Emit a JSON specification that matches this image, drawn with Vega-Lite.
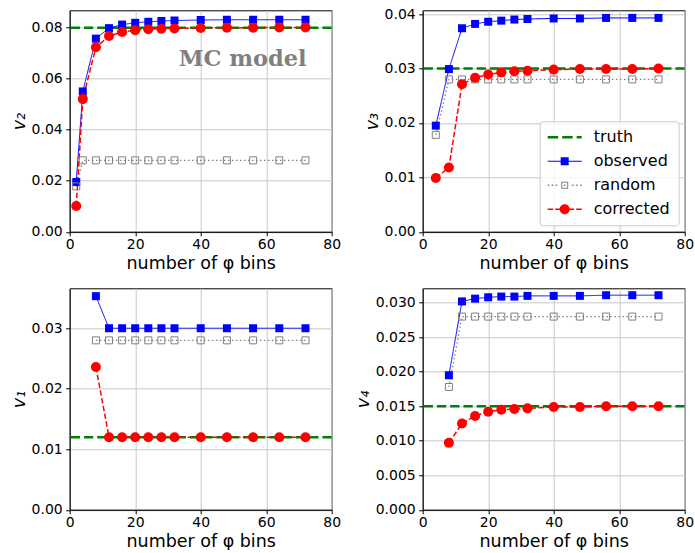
{
  "$schema": "https://vega.github.io/schema/vega-lite/v6.json",
  "background": "white",
  "padding": {"left": 8.7, "top": 6.3, "right": 0, "bottom": 0},
  "config": {
    "view": {"stroke": "#000", "strokeWidth": 1},
    "axis": {"labelFont": "DejaVu Sans", "labelFontSize": 14, "labelColor": "#000", "titleFont": "DejaVu Sans", "titleFontSize": 17.5, "titleFontWeight": "normal", "titleColor": "#000", "domainColor": "#000", "domainWidth": 1, "tickColor": "#000", "tickSize": 4, "tickWidth": 1, "gridColor": "#c8c8c8", "gridWidth": 1, "labelFlush": false, "labelOverlap": false},
    "axisX": {"titlePadding": 3, "labelPadding": 1.5},
    "axisY": {"titlePadding": 3, "labelPadding": 3.5, "titleFontStyle": "italic"}
  },
  "datasets": {
    "d": [
      {"p": "v2", "s": "truth", "x": 0, "v": 0.08},
      {"p": "v2", "s": "observed", "x": 2, "v": 0.0195}, {"p": "v2", "s": "observed", "x": 4, "v": 0.055}, {"p": "v2", "s": "observed", "x": 8, "v": 0.0757}, {"p": "v2", "s": "observed", "x": 12, "v": 0.0798}, {"p": "v2", "s": "observed", "x": 16, "v": 0.0812}, {"p": "v2", "s": "observed", "x": 20, "v": 0.0819}, {"p": "v2", "s": "observed", "x": 24, "v": 0.0823}, {"p": "v2", "s": "observed", "x": 28, "v": 0.0826}, {"p": "v2", "s": "observed", "x": 32, "v": 0.0828}, {"p": "v2", "s": "observed", "x": 40, "v": 0.083}, {"p": "v2", "s": "observed", "x": 48, "v": 0.0831}, {"p": "v2", "s": "observed", "x": 56, "v": 0.0831}, {"p": "v2", "s": "observed", "x": 64, "v": 0.0831}, {"p": "v2", "s": "observed", "x": 72, "v": 0.0831},
      {"p": "v2", "s": "random", "x": 2, "v": 0.0178}, {"p": "v2", "s": "random", "x": 4, "v": 0.028}, {"p": "v2", "s": "random", "x": 8, "v": 0.028}, {"p": "v2", "s": "random", "x": 12, "v": 0.028}, {"p": "v2", "s": "random", "x": 16, "v": 0.028}, {"p": "v2", "s": "random", "x": 20, "v": 0.028}, {"p": "v2", "s": "random", "x": 24, "v": 0.028}, {"p": "v2", "s": "random", "x": 28, "v": 0.028}, {"p": "v2", "s": "random", "x": 32, "v": 0.028}, {"p": "v2", "s": "random", "x": 40, "v": 0.028}, {"p": "v2", "s": "random", "x": 48, "v": 0.028}, {"p": "v2", "s": "random", "x": 56, "v": 0.028}, {"p": "v2", "s": "random", "x": 64, "v": 0.028}, {"p": "v2", "s": "random", "x": 72, "v": 0.028},
      {"p": "v2", "s": "corrected", "x": 2, "v": 0.0101}, {"p": "v2", "s": "corrected", "x": 4, "v": 0.052}, {"p": "v2", "s": "corrected", "x": 8, "v": 0.0723}, {"p": "v2", "s": "corrected", "x": 12, "v": 0.0767}, {"p": "v2", "s": "corrected", "x": 16, "v": 0.0783}, {"p": "v2", "s": "corrected", "x": 20, "v": 0.079}, {"p": "v2", "s": "corrected", "x": 24, "v": 0.0794}, {"p": "v2", "s": "corrected", "x": 28, "v": 0.0796}, {"p": "v2", "s": "corrected", "x": 32, "v": 0.0797}, {"p": "v2", "s": "corrected", "x": 40, "v": 0.0799}, {"p": "v2", "s": "corrected", "x": 48, "v": 0.08}, {"p": "v2", "s": "corrected", "x": 56, "v": 0.08}, {"p": "v2", "s": "corrected", "x": 64, "v": 0.0801}, {"p": "v2", "s": "corrected", "x": 72, "v": 0.0801},

      {"p": "v3", "s": "truth", "x": 0, "v": 0.03},
      {"p": "v3", "s": "observed", "x": 4, "v": 0.0195}, {"p": "v3", "s": "observed", "x": 8, "v": 0.0299}, {"p": "v3", "s": "observed", "x": 12, "v": 0.0374}, {"p": "v3", "s": "observed", "x": 16, "v": 0.0382}, {"p": "v3", "s": "observed", "x": 20, "v": 0.0386}, {"p": "v3", "s": "observed", "x": 24, "v": 0.0388}, {"p": "v3", "s": "observed", "x": 28, "v": 0.039}, {"p": "v3", "s": "observed", "x": 32, "v": 0.0391}, {"p": "v3", "s": "observed", "x": 40, "v": 0.0392}, {"p": "v3", "s": "observed", "x": 48, "v": 0.0392}, {"p": "v3", "s": "observed", "x": 56, "v": 0.0393}, {"p": "v3", "s": "observed", "x": 64, "v": 0.0393}, {"p": "v3", "s": "observed", "x": 72, "v": 0.0393},
      {"p": "v3", "s": "random", "x": 4, "v": 0.0178}, {"p": "v3", "s": "random", "x": 8, "v": 0.028}, {"p": "v3", "s": "random", "x": 12, "v": 0.028}, {"p": "v3", "s": "random", "x": 16, "v": 0.028}, {"p": "v3", "s": "random", "x": 20, "v": 0.028}, {"p": "v3", "s": "random", "x": 24, "v": 0.028}, {"p": "v3", "s": "random", "x": 28, "v": 0.028}, {"p": "v3", "s": "random", "x": 32, "v": 0.028}, {"p": "v3", "s": "random", "x": 40, "v": 0.028}, {"p": "v3", "s": "random", "x": 48, "v": 0.028}, {"p": "v3", "s": "random", "x": 56, "v": 0.028}, {"p": "v3", "s": "random", "x": 64, "v": 0.028}, {"p": "v3", "s": "random", "x": 72, "v": 0.028},
      {"p": "v3", "s": "corrected", "x": 4, "v": 0.0099}, {"p": "v3", "s": "corrected", "x": 8, "v": 0.0118}, {"p": "v3", "s": "corrected", "x": 12, "v": 0.0271}, {"p": "v3", "s": "corrected", "x": 16, "v": 0.0283}, {"p": "v3", "s": "corrected", "x": 20, "v": 0.0289}, {"p": "v3", "s": "corrected", "x": 24, "v": 0.0293}, {"p": "v3", "s": "corrected", "x": 28, "v": 0.0295}, {"p": "v3", "s": "corrected", "x": 32, "v": 0.0296}, {"p": "v3", "s": "corrected", "x": 40, "v": 0.0298}, {"p": "v3", "s": "corrected", "x": 48, "v": 0.0299}, {"p": "v3", "s": "corrected", "x": 56, "v": 0.0299}, {"p": "v3", "s": "corrected", "x": 64, "v": 0.0299}, {"p": "v3", "s": "corrected", "x": 72, "v": 0.03},

      {"p": "v1", "s": "truth", "x": 0, "v": 0.012},
      {"p": "v1", "s": "observed", "x": 8, "v": 0.0353}, {"p": "v1", "s": "observed", "x": 12, "v": 0.03}, {"p": "v1", "s": "observed", "x": 16, "v": 0.03}, {"p": "v1", "s": "observed", "x": 20, "v": 0.03}, {"p": "v1", "s": "observed", "x": 24, "v": 0.03}, {"p": "v1", "s": "observed", "x": 28, "v": 0.03}, {"p": "v1", "s": "observed", "x": 32, "v": 0.03}, {"p": "v1", "s": "observed", "x": 40, "v": 0.03}, {"p": "v1", "s": "observed", "x": 48, "v": 0.03}, {"p": "v1", "s": "observed", "x": 56, "v": 0.03}, {"p": "v1", "s": "observed", "x": 64, "v": 0.03}, {"p": "v1", "s": "observed", "x": 72, "v": 0.03},
      {"p": "v1", "s": "random", "x": 8, "v": 0.028}, {"p": "v1", "s": "random", "x": 12, "v": 0.028}, {"p": "v1", "s": "random", "x": 16, "v": 0.028}, {"p": "v1", "s": "random", "x": 20, "v": 0.028}, {"p": "v1", "s": "random", "x": 24, "v": 0.028}, {"p": "v1", "s": "random", "x": 28, "v": 0.028}, {"p": "v1", "s": "random", "x": 32, "v": 0.028}, {"p": "v1", "s": "random", "x": 40, "v": 0.028}, {"p": "v1", "s": "random", "x": 48, "v": 0.028}, {"p": "v1", "s": "random", "x": 56, "v": 0.028}, {"p": "v1", "s": "random", "x": 64, "v": 0.028}, {"p": "v1", "s": "random", "x": 72, "v": 0.028},
      {"p": "v1", "s": "corrected", "x": 8, "v": 0.0236}, {"p": "v1", "s": "corrected", "x": 12, "v": 0.012}, {"p": "v1", "s": "corrected", "x": 16, "v": 0.012}, {"p": "v1", "s": "corrected", "x": 20, "v": 0.012}, {"p": "v1", "s": "corrected", "x": 24, "v": 0.012}, {"p": "v1", "s": "corrected", "x": 28, "v": 0.012}, {"p": "v1", "s": "corrected", "x": 32, "v": 0.012}, {"p": "v1", "s": "corrected", "x": 40, "v": 0.012}, {"p": "v1", "s": "corrected", "x": 48, "v": 0.012}, {"p": "v1", "s": "corrected", "x": 56, "v": 0.012}, {"p": "v1", "s": "corrected", "x": 64, "v": 0.012}, {"p": "v1", "s": "corrected", "x": 72, "v": 0.012},

      {"p": "v4", "s": "truth", "x": 0, "v": 0.015},
      {"p": "v4", "s": "observed", "x": 8, "v": 0.0195}, {"p": "v4", "s": "observed", "x": 12, "v": 0.0302}, {"p": "v4", "s": "observed", "x": 16, "v": 0.0306}, {"p": "v4", "s": "observed", "x": 20, "v": 0.0308}, {"p": "v4", "s": "observed", "x": 24, "v": 0.0309}, {"p": "v4", "s": "observed", "x": 28, "v": 0.0309}, {"p": "v4", "s": "observed", "x": 32, "v": 0.031}, {"p": "v4", "s": "observed", "x": 40, "v": 0.031}, {"p": "v4", "s": "observed", "x": 48, "v": 0.031}, {"p": "v4", "s": "observed", "x": 56, "v": 0.0311}, {"p": "v4", "s": "observed", "x": 64, "v": 0.0311}, {"p": "v4", "s": "observed", "x": 72, "v": 0.0311},
      {"p": "v4", "s": "random", "x": 8, "v": 0.0178}, {"p": "v4", "s": "random", "x": 12, "v": 0.028}, {"p": "v4", "s": "random", "x": 16, "v": 0.028}, {"p": "v4", "s": "random", "x": 20, "v": 0.028}, {"p": "v4", "s": "random", "x": 24, "v": 0.028}, {"p": "v4", "s": "random", "x": 28, "v": 0.028}, {"p": "v4", "s": "random", "x": 32, "v": 0.028}, {"p": "v4", "s": "random", "x": 40, "v": 0.028}, {"p": "v4", "s": "random", "x": 48, "v": 0.028}, {"p": "v4", "s": "random", "x": 56, "v": 0.028}, {"p": "v4", "s": "random", "x": 64, "v": 0.028}, {"p": "v4", "s": "random", "x": 72, "v": 0.028},
      {"p": "v4", "s": "corrected", "x": 8, "v": 0.0097}, {"p": "v4", "s": "corrected", "x": 12, "v": 0.0125}, {"p": "v4", "s": "corrected", "x": 16, "v": 0.0136}, {"p": "v4", "s": "corrected", "x": 20, "v": 0.0142}, {"p": "v4", "s": "corrected", "x": 24, "v": 0.0145}, {"p": "v4", "s": "corrected", "x": 28, "v": 0.0146}, {"p": "v4", "s": "corrected", "x": 32, "v": 0.0147}, {"p": "v4", "s": "corrected", "x": 40, "v": 0.0149}, {"p": "v4", "s": "corrected", "x": 48, "v": 0.0149}, {"p": "v4", "s": "corrected", "x": 56, "v": 0.015}, {"p": "v4", "s": "corrected", "x": 64, "v": 0.015}, {"p": "v4", "s": "corrected", "x": 72, "v": 0.015}
    ]
  },
  "columns": 2,
  "spacing": {"row": 56, "column": 91},
  "bounds": "flush",
  "resolve": {"scale": {"color": "independent"}, "legend": {"color": "independent"}},
  "concat": [
    {
      "width": 262, "height": 221.5,
      "data": {"name": "d"},
      "encoding": {"y": {"field": "v", "type": "quantitative", "title": "v₂", "scale": {"domain": [0, 0.0868], "nice": false, "zero": false}, "axis": {"values": [0, 0.02, 0.04, 0.06, 0.08], "format": ".2f"}}},
      "layer": [
        {"transform": [{"filter": "datum.p === 'v2' && datum.s === 'truth'"}], "mark": {"type": "rule", "color": "#008000", "strokeWidth": 2.5, "strokeDash": [9.25, 4]}},
        {"transform": [{"filter": "datum.p === 'v2' && datum.s !== 'truth'"}], "mark": {"type": "line"},
         "encoding": {
           "x": {"field": "x", "type": "quantitative", "title": "number of φ bins", "scale": {"domain": [0, 80], "nice": false, "zero": false}, "axis": {"values": [0, 20, 40, 60, 80]}},
           "color": {"field": "s", "type": "nominal", "scale": {"domain": ["truth", "observed", "random", "corrected"], "range": ["#008000", "#0000ff", "#808080", "#ff0000"]}, "legend": null},
           "strokeDash": {"field": "s", "type": "nominal", "scale": {"domain": ["observed", "random", "corrected"], "range": [[1, 0], [1.5, 2.5], [5.5, 2.4]]}, "legend": null},
           "strokeWidth": {"field": "s", "type": "nominal", "scale": {"domain": ["observed", "random", "corrected"], "range": [1, 1.5, 1.5]}, "legend": null}
         }},
        {"transform": [{"filter": "datum.p === 'v2' && datum.s === 'observed'"}], "mark": {"type": "point", "shape": "square", "filled": true, "color": "#0000ff", "size": 64, "opacity": 1},
         "encoding": {"x": {"field": "x", "type": "quantitative"}}},
        {"transform": [{"filter": "datum.p === 'v2' && datum.s === 'random'"}], "mark": {"type": "point", "shape": "square", "filled": false, "color": "#808080", "strokeWidth": 1, "size": 49, "opacity": 1},
         "encoding": {"x": {"field": "x", "type": "quantitative"}}},
        {"transform": [{"filter": "datum.p === 'v2' && datum.s === 'corrected'"}], "mark": {"type": "point", "shape": "circle", "filled": true, "color": "#ff0000", "size": 100, "opacity": 1},
         "encoding": {"x": {"field": "x", "type": "quantitative"}}},
        {"transform": [{"filter": "datum.p === 'v2' && datum.s === 'truth'"}], "mark": {"type": "text", "text": "MC model", "font": "DejaVu Serif", "fontWeight": "bold", "fontSize": 22.5, "fill": "#808080", "align": "center", "baseline": "alphabetic"},
         "encoding": {"x": {"datum": 52.8}, "y": {"datum": 0.0648}}}
      ]
    },
    {
      "width": 262, "height": 221.5,
      "data": {"name": "d"},
      "encoding": {"y": {"field": "v", "type": "quantitative", "title": "v₃", "scale": {"domain": [0, 0.0407], "nice": false, "zero": false}, "axis": {"values": [0, 0.01, 0.02, 0.03, 0.04], "format": ".2f"}}},
      "layer": [
        {"transform": [{"filter": "datum.p === 'v3' && datum.s === 'truth'"}], "mark": {"type": "rule", "color": "#008000", "strokeWidth": 2.5, "strokeDash": [9.25, 4]}},
        {"transform": [{"filter": "datum.p === 'v3' && datum.s !== 'truth'"}], "mark": {"type": "line"},
         "encoding": {
           "x": {"field": "x", "type": "quantitative", "title": "number of φ bins", "scale": {"domain": [0, 80], "nice": false, "zero": false}, "axis": {"values": [0, 20, 40, 60, 80]}},
           "color": {"field": "s", "type": "nominal", "scale": {"domain": ["truth", "observed", "random", "corrected"], "range": ["#008000", "#0000ff", "#808080", "#ff0000"]},
             "legend": {
               "orient": "bottom-right", "offset": 6.5, "title": null, "padding": 8,
               "fillColor": "rgba(255,255,255,0.8)", "strokeColor": "#cccccc", "cornerRadius": 3,
               "labelFont": "DejaVu Sans", "labelFontSize": 16, "labelColor": "#000",
               "symbolSize": 4, "symbolStrokeWidth": 0, "symbolOffset": 9, "labelOffset": 21, "rowPadding": 8,
               "encode": {"symbols": {"update": {
                 "shape": {"signal": "datum.value === 'truth' ? 'M-17,-1.25H-6.5V1.25H-17Z M-2.5,-1.25H8V1.25H-2.5Z M12,-1.25H17V1.25H12Z' : datum.value === 'observed' ? 'M-17,-0.5H17V0.5H-17Z M-4,-4H4V4H-4Z' : datum.value === 'random' ? 'M-17,-0.75H-15.5V0.75H-17Z M-13,-0.75H-11.5V0.75H-13Z M-9,-0.75H-7.5V0.75H-9Z M7.5,-0.75H9V0.75H7.5Z M11.5,-0.75H13V0.75H11.5Z M15.5,-0.75H17V0.75H15.5Z M-3.5,-3.5H3.5V3.5H-3.5Z M-2.5,-2.5V2.5H2.5V-2.5Z M-0.75,-0.75H0.75V0.75H-0.75Z' : 'M-17,-0.75H-11.5V0.75H-17Z M-9.5,-0.75H-4.5V0.75H-9.5Z M4.5,-0.75H9.5V0.75H4.5Z M11.5,-0.75H17V0.75H11.5Z M5,0A5,5 0 1,1 -5,0A5,5 0 1,1 5,0Z'"},
                 "fill": {"signal": "datum.value === 'truth' ? '#008000' : datum.value === 'observed' ? '#0000ff' : datum.value === 'random' ? '#808080' : '#ff0000'"},
                 "stroke": {"value": "transparent"},
                 "strokeWidth": {"value": 0},
                 "opacity": {"value": 1}
               }}}
             }},
           "strokeDash": {"field": "s", "type": "nominal", "scale": {"domain": ["observed", "random", "corrected"], "range": [[1, 0], [1.5, 2.5], [5.5, 2.4]]}, "legend": null},
           "strokeWidth": {"field": "s", "type": "nominal", "scale": {"domain": ["observed", "random", "corrected"], "range": [1, 1.5, 1.5]}, "legend": null}
         }},
        {"transform": [{"filter": "datum.p === 'v3' && datum.s === 'observed'"}], "mark": {"type": "point", "shape": "square", "filled": true, "color": "#0000ff", "size": 64, "opacity": 1},
         "encoding": {"x": {"field": "x", "type": "quantitative"}}},
        {"transform": [{"filter": "datum.p === 'v3' && datum.s === 'random'"}], "mark": {"type": "point", "shape": "square", "filled": false, "color": "#808080", "strokeWidth": 1, "size": 49, "opacity": 1},
         "encoding": {"x": {"field": "x", "type": "quantitative"}}},
        {"transform": [{"filter": "datum.p === 'v3' && datum.s === 'corrected'"}], "mark": {"type": "point", "shape": "circle", "filled": true, "color": "#ff0000", "size": 100, "opacity": 1},
         "encoding": {"x": {"field": "x", "type": "quantitative"}}}
      ]
    },
    {
      "width": 262, "height": 221.5,
      "data": {"name": "d"},
      "encoding": {"y": {"field": "v", "type": "quantitative", "title": "v₁", "scale": {"domain": [0, 0.0366], "nice": false, "zero": false}, "axis": {"values": [0, 0.01, 0.02, 0.03], "format": ".2f"}}},
      "layer": [
        {"transform": [{"filter": "datum.p === 'v1' && datum.s === 'truth'"}], "mark": {"type": "rule", "color": "#008000", "strokeWidth": 2.5, "strokeDash": [9.25, 4]}},
        {"transform": [{"filter": "datum.p === 'v1' && datum.s !== 'truth'"}], "mark": {"type": "line"},
         "encoding": {
           "x": {"field": "x", "type": "quantitative", "title": "number of φ bins", "scale": {"domain": [0, 80], "nice": false, "zero": false}, "axis": {"values": [0, 20, 40, 60, 80]}},
           "color": {"field": "s", "type": "nominal", "scale": {"domain": ["truth", "observed", "random", "corrected"], "range": ["#008000", "#0000ff", "#808080", "#ff0000"]}, "legend": null},
           "strokeDash": {"field": "s", "type": "nominal", "scale": {"domain": ["observed", "random", "corrected"], "range": [[1, 0], [1.5, 2.5], [5.5, 2.4]]}, "legend": null},
           "strokeWidth": {"field": "s", "type": "nominal", "scale": {"domain": ["observed", "random", "corrected"], "range": [1, 1.5, 1.5]}, "legend": null}
         }},
        {"transform": [{"filter": "datum.p === 'v1' && datum.s === 'observed'"}], "mark": {"type": "point", "shape": "square", "filled": true, "color": "#0000ff", "size": 64, "opacity": 1},
         "encoding": {"x": {"field": "x", "type": "quantitative"}}},
        {"transform": [{"filter": "datum.p === 'v1' && datum.s === 'random'"}], "mark": {"type": "point", "shape": "square", "filled": false, "color": "#808080", "strokeWidth": 1, "size": 49, "opacity": 1},
         "encoding": {"x": {"field": "x", "type": "quantitative"}}},
        {"transform": [{"filter": "datum.p === 'v1' && datum.s === 'corrected'"}], "mark": {"type": "point", "shape": "circle", "filled": true, "color": "#ff0000", "size": 100, "opacity": 1},
         "encoding": {"x": {"field": "x", "type": "quantitative"}}}
      ]
    },
    {
      "width": 262, "height": 221.5,
      "data": {"name": "d"},
      "encoding": {"y": {"field": "v", "type": "quantitative", "title": "v₄", "scale": {"domain": [0, 0.0321], "nice": false, "zero": false}, "axis": {"values": [0, 0.005, 0.01, 0.015, 0.02, 0.025, 0.03], "format": ".3f"}}},
      "layer": [
        {"transform": [{"filter": "datum.p === 'v4' && datum.s === 'truth'"}], "mark": {"type": "rule", "color": "#008000", "strokeWidth": 2.5, "strokeDash": [9.25, 4]}},
        {"transform": [{"filter": "datum.p === 'v4' && datum.s !== 'truth'"}], "mark": {"type": "line"},
         "encoding": {
           "x": {"field": "x", "type": "quantitative", "title": "number of φ bins", "scale": {"domain": [0, 80], "nice": false, "zero": false}, "axis": {"values": [0, 20, 40, 60, 80]}},
           "color": {"field": "s", "type": "nominal", "scale": {"domain": ["truth", "observed", "random", "corrected"], "range": ["#008000", "#0000ff", "#808080", "#ff0000"]}, "legend": null},
           "strokeDash": {"field": "s", "type": "nominal", "scale": {"domain": ["observed", "random", "corrected"], "range": [[1, 0], [1.5, 2.5], [5.5, 2.4]]}, "legend": null},
           "strokeWidth": {"field": "s", "type": "nominal", "scale": {"domain": ["observed", "random", "corrected"], "range": [1, 1.5, 1.5]}, "legend": null}
         }},
        {"transform": [{"filter": "datum.p === 'v4' && datum.s === 'observed'"}], "mark": {"type": "point", "shape": "square", "filled": true, "color": "#0000ff", "size": 64, "opacity": 1},
         "encoding": {"x": {"field": "x", "type": "quantitative"}}},
        {"transform": [{"filter": "datum.p === 'v4' && datum.s === 'random'"}], "mark": {"type": "point", "shape": "square", "filled": false, "color": "#808080", "strokeWidth": 1, "size": 49, "opacity": 1},
         "encoding": {"x": {"field": "x", "type": "quantitative"}}},
        {"transform": [{"filter": "datum.p === 'v4' && datum.s === 'corrected'"}], "mark": {"type": "point", "shape": "circle", "filled": true, "color": "#ff0000", "size": 100, "opacity": 1},
         "encoding": {"x": {"field": "x", "type": "quantitative"}}}
      ]
    }
  ]
}
